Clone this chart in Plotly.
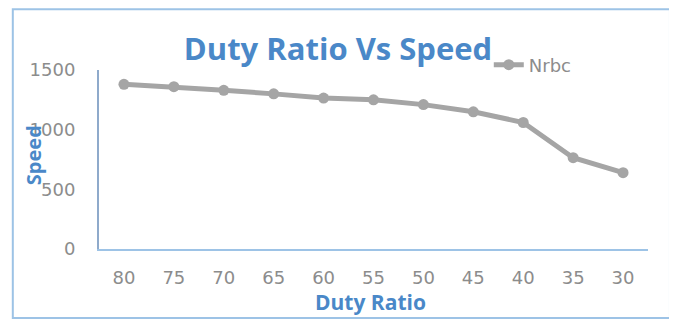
import plotly.graph_objects as go

duty_ratio = ["80", "75", "70", "65", "60", "55", "50", "45", "40", "35", "30"]
speed_nrbc = [1380, 1360, 1330, 1300, 1265, 1250, 1210, 1150, 1060, 765, 640]
y_ticks = [0, 500, 1000, 1500]

blue = "#4A88C8"
gray_txt = "#8C8C8C"
tick_font = "DejaVu Sans, sans-serif"
title_font = "Open Sans, sans-serif"

fig = go.Figure()
fig.add_trace(go.Scatter(
    x=duty_ratio, y=speed_nrbc, mode="lines+markers", name="Nrbc",
    line=dict(color="#A5A5A5", width=5),
    marker=dict(color="#A5A5A5", size=11),
))

fig.update_layout(
    width=677, height=320,
    margin=dict(l=91, r=37, t=62, b=79),
    paper_bgcolor="white", plot_bgcolor="white",
    font=dict(family=tick_font, color=gray_txt, size=16),
    title=dict(text="<b>Duty Ratio Vs Speed</b>", x=0.4875, xanchor="center",
               y=0.872, yanchor="middle",
               font=dict(size=31, color=blue, family=title_font)),
    showlegend=True,
    legend=dict(x=0.71, y=1.028, xanchor="left", yanchor="middle",
                orientation="h", bgcolor="rgba(0,0,0,0)",
                font=dict(size=18, color=gray_txt, family=tick_font)),
    xaxis=dict(type="category", range=[-0.5, 10.5], showgrid=False,
               showline=True, linecolor="#9DC3E6", linewidth=2,
               ticks="", ticklabelstandoff=11,
               tickfont=dict(size=18, color=gray_txt, family=tick_font)),
    yaxis=dict(range=[0, 1500], tickvals=y_ticks, showgrid=False,
               showline=True, linecolor="#8FAACB", linewidth=2,
               ticks="", ticklabelstandoff=18, zeroline=False,
               tickfont=dict(size=18, color=gray_txt, family=tick_font)),
    shapes=[dict(type="rect", xref="paper", yref="paper",
                 x0=-0.157, x1=1.040, y0=-0.385, y1=1.34,
                 line=dict(color="#9DC3E6", width=2), fillcolor="rgba(0,0,0,0)",
                 layer="below")],
    annotations=[
        dict(text="<b>Speed</b>", xref="paper", yref="paper", x=-0.12, y=0.525,
             textangle=-90, showarrow=False, xanchor="center", yanchor="middle",
             font=dict(size=20, color=blue, family=title_font)),
        dict(text="<b>Duty Ratio</b>", xref="paper", yref="paper", x=0.494, y=-0.296,
             showarrow=False, xanchor="center", yanchor="middle",
             font=dict(size=21, color=blue, family=title_font)),
    ],
)

fig.write_html("out.html")
